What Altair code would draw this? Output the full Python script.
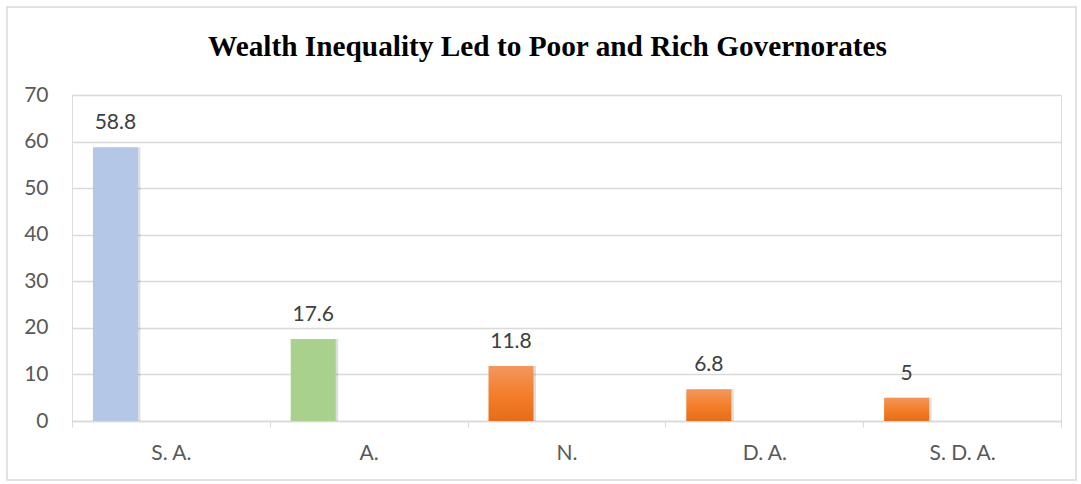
import altair as alt
import pandas as pd

categories = ["S. A.", "A.", "N.", "D. A.", "S. D. A."]
values = [58.8, 17.6, 11.8, 6.8, 5]
labels = ["58.8", "17.6", "11.8", "6.8", "5"]
groups = ["blue", "green", "orange", "orange", "orange"]

df = pd.DataFrame({"cat": categories, "val": values, "lab": labels, "grp": groups})

W, H = 989, 326
BAR_W = 45
OFF = -55.5
FS = 21

x = alt.X("cat:N", sort=None, title=None,
          scale=alt.Scale(paddingInner=0, paddingOuter=0),
          axis=alt.Axis(labelAngle=0, tickBand="extent", ticks=True, tickSize=6,
                        tickColor="#d9d9d9", domainColor="#d9d9d9", domainWidth=1.5,
                        labelFont="Lato", labelFontSize=FS, labelColor="#595959",
                        labelBaseline="alphabetic", labelPadding=32, grid=False))
y = alt.Y("val:Q", title=None,
          scale=alt.Scale(domain=[0, 70], nice=False),
          axis=alt.Axis(values=[0, 10, 20, 30, 40, 50, 60, 70], domain=False, ticks=False,
                        gridColor="#d9d9d9", gridWidth=1.5,
                        labelFont="Lato", labelFontSize=FS, labelColor="#595959",
                        labelPadding=24))

base = alt.Chart(df)

border = base.mark_rect(fill=None, stroke="#d9d9d9", strokeWidth=1.5).encode(
    x=alt.value(-65), x2=alt.value(1004), y=alt.value(-88), y2=alt.value(385)
).transform_filter(alt.datum.cat == "S. A.")

shadow = base.mark_bar(width=BAR_W, xOffset=OFF + 2.5, color="#000000", opacity=0.13).encode(
    x=x, y=y
)

solid = base.mark_bar(width=BAR_W, xOffset=OFF).encode(
    x=x, y=y,
    color=alt.Color("grp:N", legend=None,
                    scale=alt.Scale(domain=["blue", "green"], range=["#b4c7e7", "#a9d18e"]))
).transform_filter(alt.datum.grp != "orange")

orange = base.mark_bar(
    width=BAR_W, xOffset=OFF,
    color=alt.Gradient(gradient="linear", x1=0, x2=0, y1=0, y2=1,
                       stops=[alt.GradientStop(color="#f3975f", offset=0),
                              alt.GradientStop(color="#f47f2a", offset=0.5),
                              alt.GradientStop(color="#e66c1a", offset=1)])
).encode(x=x, y=y).transform_filter(alt.datum.grp == "orange")

text = base.mark_text(xOffset=OFF, dy=-18, baseline="alphabetic", font="Lato",
                      fontSize=FS, color="#404040").encode(
    x=x, y=y, text="lab:N"
)

chart = alt.layer(border, shadow, solid, orange, text).properties(
    width=W, height=H,
    padding={"left": 72, "top": 95, "right": 20, "bottom": 63},
    autosize=alt.AutoSizeParams(type="none"),
    title=alt.Title("Wealth Inequality Led to Poor and Rich Governorates",
                    font="Liberation Serif", fontSize=29.3, fontWeight="bold", color="#000000",
                    anchor="middle", frame="group", dx=-19, baseline="alphabetic", offset=-79)
).configure_view(stroke=None).configure(background="white")

chart.save("out.html", embed_options={"renderer": "svg", "actions": False})
